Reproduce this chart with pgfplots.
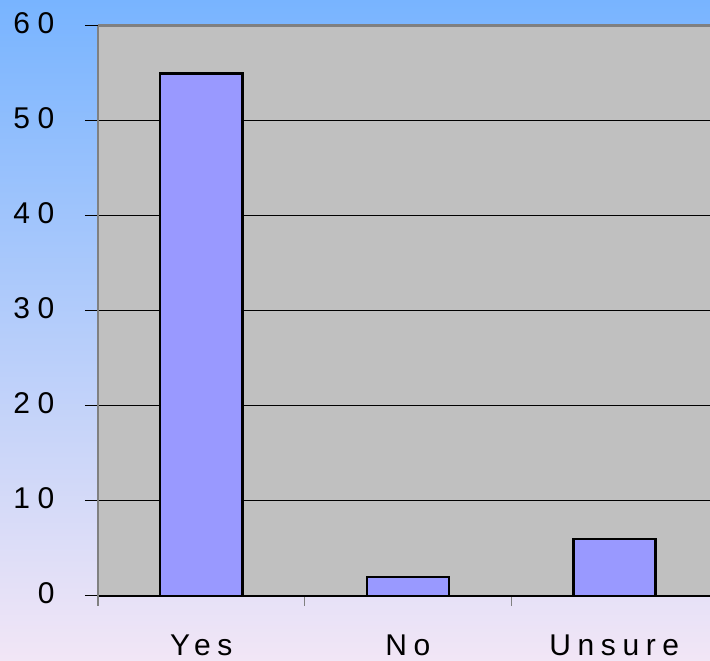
\documentclass[border=0pt]{standalone}
\usepackage{fontspec}
\setmainfont{Liberation Sans}
\newfontfamily\numfam[LetterSpace=26]{Liberation Sans}
\newfontfamily\catfam[LetterSpace=22]{Liberation Sans}
\usepackage{pgfplots}
\pgfplotsset{compat=1.18}

\definecolor{skyTop}{RGB}{120,180,255}
\definecolor{mistBottom}{RGB}{242,230,246}
\definecolor{plotGray}{RGB}{192,192,192}
\definecolor{barBlue}{RGB}{153,153,255}
\definecolor{spineGray}{RGB}{128,128,128}

\begin{document}
\begin{tikzpicture}[x=1pt,y=1pt]
  % page background
  \shade[top color=skyTop, bottom color=mistBottom] (0,0) rectangle (710,661);
  \begin{axis}[
    at={(98pt,65pt)}, anchor=south west,
    scale only axis, width=612pt, height=570pt,
    xmin=-0.5, xmax=2.4637, ymin=0, ymax=60,
    axis lines=left,
    axis background/.style={fill=plotGray},
    x axis line style={black, line width=1.5pt, -},
    y axis line style={spineGray, line width=2.7pt, -, shorten <=-10pt},
    xtick={0,1,2}, xticklabels={Yes,No,Unsure},
    minor xtick={0.5,1.5},
    ytick={0,10,...,60},
    tick align=outside,
    major x tick style={draw=none},
    minor x tick style={spineGray, line width=1pt},
    minor tick length=10pt,
    major y tick style={black, line width=1pt},
    major tick length=13pt,
    ymajorgrids, grid style={black, line width=1pt},
    /pgf/number format/assume math mode=true,
    yticklabel style={font=\numfam\fontsize{30}{31}\selectfont, anchor=east, xshift=-27pt, yshift=3pt},
    xticklabel style={font=\catfam\fontsize{30}{31}\selectfont, anchor=north, yshift=-22pt},
    ybar, bar width=82pt,
    clip=false,
  ]
    \addplot[fill=barBlue, draw=black, line width=2.5pt] coordinates {(0,55) (1,2) (2,6)};
    \draw[spineGray, line width=3pt] (rel axis cs:0,1) -- (rel axis cs:1,1);
  \end{axis}
  \pgfresetboundingbox
  \useasboundingbox (0,0) rectangle (710,661);
\end{tikzpicture}
\end{document}
